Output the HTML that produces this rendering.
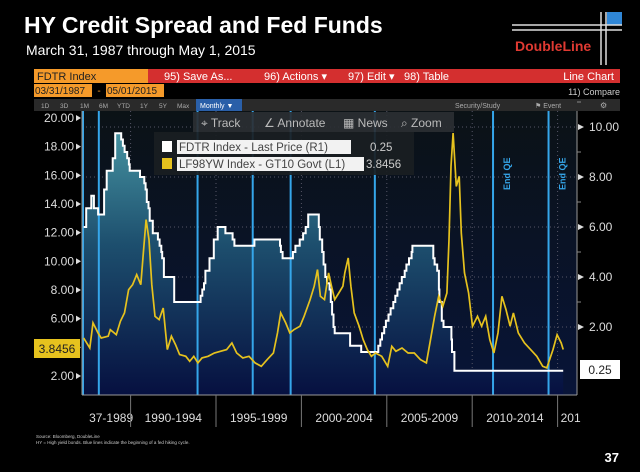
<!DOCTYPE html>
<html><head><meta charset="utf-8"><style>
html,body{margin:0;padding:0;background:#000;}
svg{display:block;font-family:"Liberation Sans",sans-serif;}
</style></head><body>
<svg id="chart" width="640" height="472" viewBox="0 0 640 472">
<defs>
<linearGradient id="bgGrad" x1="0" y1="111" x2="0" y2="395" gradientUnits="userSpaceOnUse">
<stop offset="0" stop-color="#0b1216"/><stop offset="1" stop-color="#081438"/></linearGradient>
<linearGradient id="fillGrad" x1="0" y1="120" x2="0" y2="395" gradientUnits="userSpaceOnUse">
<stop offset="0" stop-color="#4a9aa6"/><stop offset="0.45" stop-color="#1d4f6e"/><stop offset="1" stop-color="#061040"/></linearGradient>
</defs>
<text x="24" y="33" fill="#fff" font-size="23" font-weight="bold">HY Credit Spread and Fed Funds</text>
<text x="26" y="55" fill="#fff" font-size="14">March 31, 1987 through May 1, 2015</text>
<g>
<rect x="607" y="12" width="15" height="13" fill="#2f86d6"/>
<line x1="512" y1="25" x2="622" y2="25" stroke="#ddd" stroke-width="1.5"/>
<line x1="512" y1="30" x2="622" y2="30" stroke="#ddd" stroke-width="1.5"/>
<line x1="601" y1="12" x2="601" y2="65" stroke="#ddd" stroke-width="1.5"/>
<line x1="606" y1="12" x2="606" y2="65" stroke="#ddd" stroke-width="1.5"/>
<text x="515" y="51" fill="#e03a32" font-size="14" font-weight="bold">DoubleLine</text>
</g>
<g>
<rect x="34" y="69" width="114" height="14" fill="#f59a2a"/>
<text x="37" y="80" fill="#222" font-size="11">FDTR Index</text>
<rect x="148" y="69" width="472" height="14" fill="#d42f2f"/>
<text x="164" y="80" fill="#fff" font-size="11">95) Save As...</text>
<text x="264" y="80" fill="#fff" font-size="11">96) Actions ▾</text>
<text x="348" y="80" fill="#fff" font-size="11">97) Edit ▾</text>
<text x="404" y="80" fill="#fff" font-size="11">98) Table</text>
<text x="614" y="80" fill="#fff" font-size="11" text-anchor="end">Line Chart</text>
<rect x="34" y="84" width="58" height="13" fill="#f59a2a"/>
<text x="35" y="94" fill="#222" font-size="10">03/31/1987</text>
<text x="99" y="94" fill="#f59a2a" font-size="10" text-anchor="middle">-</text>
<rect x="106" y="84" width="58" height="13" fill="#f59a2a"/>
<text x="107" y="94" fill="#222" font-size="10">05/01/2015</text>
<text x="620" y="95" fill="#ccc" font-size="9" text-anchor="end">11) Compare</text>
<rect x="34" y="99" width="586" height="12" fill="#2a2a2a"/>
<g fill="#aaa" font-size="6.5">
<text x="41" y="108">1D</text><text x="60" y="108">3D</text><text x="80" y="108">1M</text><text x="99" y="108">6M</text><text x="117" y="108">YTD</text><text x="140" y="108">1Y</text><text x="159" y="108">5Y</text><text x="177" y="108">Max</text>
</g>
<rect x="196" y="99" width="46" height="12" fill="#2a5fa8"/>
<text x="200" y="108" fill="#fff" font-size="7">Monthly ▼</text>
<text x="455" y="108" fill="#aaa" font-size="7">Security/Study</text>
<text x="535" y="108" fill="#aaa" font-size="7">⚑ Event</text>
<text x="600" y="108" fill="#aaa" font-size="8">⚙</text>
</g>
<rect x="82" y="111" width="495" height="284" fill="url(#bgGrad)"/>
<g id="grid"></g>
<path id="fedFill" fill="url(#fillGrad)"/>
<g id="bluelines"></g>
<path id="fedLine" fill="none" stroke="#fff" stroke-width="2"/>
<path id="hyLine" fill="none" stroke="#e6c21e" stroke-width="1.7"/>
<line x1="82" y1="111" x2="82" y2="395" stroke="#999"/>
<line x1="577" y1="111" x2="577" y2="395" stroke="#999"/>
<line x1="82" y1="395" x2="577" y2="395" stroke="#999"/>
<g id="axes"></g>
<g>
<rect x="193" y="112" width="261" height="20" fill="#2b2f33" opacity="0.92"/>
<text x="201" y="127" fill="#bbb" font-size="12">⌖ Track</text>
<text x="264" y="127" fill="#bbb" font-size="12">∠ Annotate</text>
<text x="343" y="127" fill="#bbb" font-size="12">▦ News</text>
<text x="401" y="127" fill="#bbb" font-size="12">⌕ Zoom</text>
</g>
<g>
<rect x="154" y="132" width="260" height="43" fill="#1a1e22" opacity="0.92"/>
<g>
<rect x="162" y="141" width="10" height="11" fill="#fff"/>
<rect x="177" y="140" width="174" height="14" fill="#f2f2f2"/>
<text x="179" y="151" fill="#444" font-size="11.5">FDTR Index - Last Price (R1)</text>
<text x="370" y="151" fill="#ccc" font-size="11.5">0.25</text>
</g>
<g>
<rect x="162" y="158" width="10" height="11" fill="#e6c21e"/>
<rect x="177" y="157" width="187" height="14" fill="#f2f2f2"/>
<text x="179" y="168" fill="#444" font-size="11.5">LF98YW Index - GT10 Govt (L1)</text>
<text x="366" y="168" fill="#ccc" font-size="11.5">3.8456</text>
</g>
</g>
<g>
<rect x="34" y="339" width="46" height="19" fill="#e6c21e"/>
<text x="57" y="353" fill="#222" font-size="12" text-anchor="middle">3.8456</text>
</g>
<g>
<rect x="580" y="360" width="40" height="19" fill="#fff"/>
<text x="600" y="374" fill="#222" font-size="12" text-anchor="middle">0.25</text>
</g>
<text x="36" y="438" fill="#ccc" font-size="4.5">Source: Bloomberg, DoubleLine</text>
<text x="36" y="444" fill="#ccc" font-size="4.5">HY = High yield bonds. Blue lines indicate the beginning of a fed hiking cycle.</text>
<text x="619" y="462" fill="#fff" font-size="13" font-weight="bold" text-anchor="end">37</text>
</svg>
<script>
const fedYears=[1987.25,1987.40,1987.70,1987.85,1988.10,1988.45,1988.60,1988.95,1989.10,1989.45,1989.55,1989.65,1989.80,1989.90,1989.95,1990.55,1990.80,1990.88,1990.95,1991.05,1991.12,1991.30,1991.60,1991.70,1991.80,1991.85,1991.95,1992.55,1994.10,1994.20,1994.30,1994.38,1994.62,1994.87,1995.10,1995.55,1995.97,1996.08,1997.25,1998.75,1998.80,1998.90,1999.50,1999.65,1999.90,2000.10,2000.25,2000.40,2001.02,2001.08,2001.22,2001.30,2001.40,2001.50,2001.65,2001.72,2001.80,2001.88,2001.95,2002.85,2003.50,2004.50,2004.62,2004.72,2004.85,2004.95,2005.10,2005.22,2005.38,2005.50,2005.62,2005.75,2005.88,2006.05,2006.15,2006.30,2006.45,2006.50,2007.72,2007.80,2007.95,2008.05,2008.08,2008.22,2008.32,2008.78,2008.82,2008.96,2015.33];
const fedRates=[6.0,6.75,7.25,6.75,6.5,7.5,8.25,8.75,9.75,9.5,9.25,9.0,8.75,8.5,8.25,8.0,7.75,7.5,7.0,6.75,6.25,5.75,5.5,5.25,5.0,4.75,4.0,3.0,3.25,3.5,3.75,4.25,4.75,5.5,6.0,5.75,5.5,5.25,5.5,5.25,5.0,4.75,5.0,5.25,5.5,5.75,6.0,6.5,6.0,5.5,5.0,4.5,4.0,3.75,3.5,3.0,2.5,2.0,1.75,1.25,1.0,1.25,1.5,1.75,2.0,2.25,2.5,2.75,3.0,3.25,3.5,3.75,4.0,4.25,4.5,4.75,5.0,5.25,4.75,4.5,4.25,3.5,3.0,2.25,2.0,1.5,1.0,0.25,0.25];
const hyYears=[1987.25,1987.37,1987.61,1987.80,1988.09,1988.28,1988.69,1988.81,1989.16,1989.40,1989.64,1989.88,1990.12,1990.36,1990.60,1990.76,1990.91,1991.08,1991.24,1991.43,1991.67,1991.91,1992.15,1992.39,1992.63,1992.87,1993.23,1993.46,1993.70,1993.94,1994.18,1994.54,1994.90,1995.26,1995.62,1995.93,1996.21,1996.57,1996.93,1997.29,1997.65,1998.00,1998.36,1998.60,1998.79,1999.08,1999.32,1999.56,1999.92,2000.16,2000.51,2000.75,2000.94,2001.11,2001.35,2001.59,2001.76,2001.95,2002.19,2002.43,2002.54,2002.74,2002.90,2003.09,2003.38,2003.62,2003.86,2004.10,2004.34,2004.70,2005.05,2005.29,2005.53,2005.89,2006.25,2006.61,2006.97,2007.32,2007.56,2007.80,2008.04,2008.28,2008.52,2008.64,2008.76,2008.88,2009.07,2009.24,2009.36,2009.55,2009.79,2010.02,2010.31,2010.55,2010.79,2011.03,2011.27,2011.51,2011.74,2011.98,2012.22,2012.41,2012.70,2013.06,2013.42,2013.78,2014.13,2014.37,2014.73,2014.97,2015.21,2015.33];
const hySpread=[4.65,4.42,3.95,5.70,5.0,4.65,4.77,5.23,4.88,5.81,6.40,8.02,8.37,9.07,8.37,10.81,12.91,11.51,8.37,6.16,5.93,6.74,3.84,4.77,4.19,3.49,3.37,3.02,3.37,2.91,3.26,3.37,3.60,3.72,3.84,4.30,3.60,3.26,3.37,2.91,2.67,3.14,3.60,5.0,6.40,5.70,5.0,5.23,5.47,6.16,7.33,8.26,9.42,7.56,7.33,9.19,8.26,7.33,7.79,8.26,9.19,10.23,8.26,6.40,5.47,4.53,3.84,3.37,3.60,3.37,2.67,4.07,3.72,3.95,3.60,3.60,3.14,2.91,4.53,6.16,7.56,6.86,7.79,11.51,16.63,18.95,15.23,15.93,11.98,9.19,7.79,5.47,6.16,5.47,6.16,4.53,3.60,5.0,7.56,6.63,5.47,6.40,5.0,4.30,3.84,3.37,2.67,2.56,3.84,4.88,4.30,3.8456];
const hikeYears=[1987.2,1988.14,1993.92,1997.15,1999.37,2004.30,2011.22,2014.47];
const qeLabels=["","","","","","","End QE","End QE"];
const leftTicks=[2,4,6,8,10,12,14,16,18,20];
const rightTicks=[2,4,6,8,10];
const periodLabels=["37-1989","1990-1994","1995-1999","2000-2004","2005-2009","2010-2014","201"];
const periodStarts=[1987.25,1990,1995,2000,2005,2010,2015];

const NS="http://www.w3.org/2000/svg";
const X0=82,X1=577,Y0=111,Y1=395;
function xs(yr){return 130.6+(yr-1990)*17.08;}
function yL(v){return 118+(20-v)*14.33;}
function yR(v){return 327-(v-2)*25;}
function mk(tag,attrs,parent){const e=document.createElementNS(NS,tag);for(const k in attrs)e.setAttribute(k,attrs[k]);parent.appendChild(e);return e;}

const grid=document.getElementById('grid');
rightTicks.forEach(v=>{
  const l=mk('line',{x1:X0,x2:X1,y1:yR(v),y2:yR(v),stroke:'#556',"stroke-dasharray":'1 3','stroke-width':1},grid);
  
  
});
periodStarts.slice(1).forEach(yr=>{
  const l=mk('line',{x1:xs(yr),x2:xs(yr),y1:Y0,y2:Y1,stroke:'#556',"stroke-dasharray":'1 3','stroke-width':1},grid);
  
  
});

// fed step path
let d='';
for(let i=0;i<fedYears.length;i++){
  const x=Math.min(xs(fedYears[i]),X1), y=yR(fedRates[i]);
  if(i===0) d+='M'+x.toFixed(1)+','+y.toFixed(1);
  else d+='H'+x.toFixed(1)+'V'+y.toFixed(1);
}
document.getElementById('fedLine').setAttribute('d',d);
const x0=Math.max(xs(fedYears[0]),X0), xl=xs(fedYears[fedYears.length-1]);
document.getElementById('fedFill').setAttribute('d',d+'V'+Y1+'H'+x0.toFixed(1)+'Z');

let h='';
hyYears.forEach((yr,i)=>{h+=(i?'L':'M')+Math.max(xs(yr),X0+1).toFixed(1)+','+yL(hySpread[i]).toFixed(1);});
document.getElementById('hyLine').setAttribute('d',h);

const bl=document.getElementById('bluelines');
hikeYears.forEach((yr,i)=>{
  const x=Math.max(xs(yr),X0+1);
  const l=mk('line',{x1:x,x2:x,y1:Y0,y2:Y1,stroke:'#35a6ea','stroke-width':2},bl);
  
  
  if(qeLabels[i]){
    const t=mk('text',{x:x+17,y:190,fill:'#35a6ea','font-size':9,'font-weight':'bold',transform:'rotate(-90 '+(x+17)+' 190)','text-anchor':'start'},bl);
    t.textContent=qeLabels[i];
    
    
  }
});

const ax=document.getElementById('axes');
leftTicks.forEach(v=>{
  const t=mk('text',{x:74,y:yL(v)+4,fill:'#ddd','font-size':12,'text-anchor':'end'},ax);
  t.textContent=v.toFixed(2);
  
  
  mk('path',{d:'M76,'+(yL(v)-3)+'L81,'+yL(v)+'L76,'+(yL(v)+3)+'Z',fill:'#ddd'},ax);
});
rightTicks.forEach(v=>{
  const t=mk('text',{x:589,y:yR(v)+4,fill:'#ddd','font-size':12},ax);
  t.textContent=v.toFixed(2);
  
  
  mk('path',{d:'M578,'+(yR(v)-3)+'L584,'+yR(v)+'L578,'+(yR(v)+3)+'Z',fill:'#ddd'},ax);
  mk('line',{x1:577,x2:581,y1:yR(v+1),y2:yR(v+1),stroke:'#888'},ax);
});
periodLabels.forEach((lab,i)=>{
  const s=Math.max(xs(periodStarts[i]),X0);
  if(i>0) mk('line',{x1:s,x2:s,y1:Y1,y2:427,stroke:'#777','stroke-width':1},ax);
  const e=i<periodStarts.length-1?xs(periodStarts[i+1]):s+16;
  const t=mk('text',{x:i===0?(s+e)/2+4:(i===periodLabels.length-1?s+3:(s+e)/2),y:422,fill:'#ddd','font-size':12,'text-anchor':i===periodLabels.length-1?'start':'middle'},ax);
  t.textContent=lab;
  
  
});
</script>
</body></html>
